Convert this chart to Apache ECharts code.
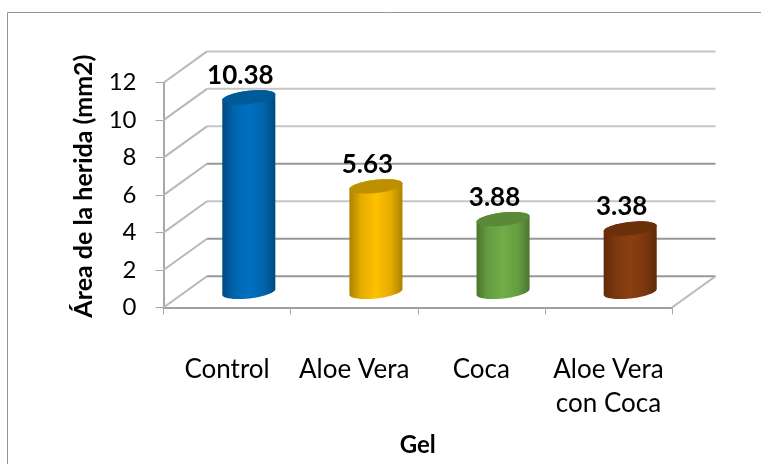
<!DOCTYPE html>
<html>
<head>
<meta charset="utf-8">
<style>html,body{margin:0;padding:0;background:#fff}#chart{width:761px;height:464px}</style>
<script src="https://cdn.jsdelivr.net/npm/echarts@6/dist/echarts.min.js"></script>
</head>
<body>
<div id="chart"></div>
<script>
const categories = ['Control', 'Aloe Vera', 'Coca', 'Aloe Vera\ncon Coca'];
const values = [10.38, 5.63, 3.88, 3.38];
const yTicks = [0, 2, 4, 6, 8, 10, 12];
const xTitle = 'Gel';
const yTitle = 'Área de la herida (mm2)';

// edge, shoulder, centre and cap tones of each cylinder
const palette = [
  ['#004a80', '#0064ac', '#0070c0', '#005a98'],
  ['#ab8200', '#e6ad00', '#ffc000', '#bd9000'],
  ['#4c7531', '#659d40', '#70ad47', '#5a8a38'],
  ['#5f2a08', '#7c370d', '#8b3f10', '#6b3009']
];

const DEPTH = [43.5, -31.3];      // oblique offset from front to back wall
const RX = 26.7, RY = 6.6, TILT = -6.5 * Math.PI / 180;

function ellipsePoint(cx, cy, t) {
  const x = RX * Math.cos(t), y = RY * Math.sin(t);
  return [cx + x * Math.cos(TILT) - y * Math.sin(TILT),
          cy + x * Math.sin(TILT) + y * Math.cos(TILT)];
}

function ellipsePolygon(cx, cy) {
  const pts = [];
  for (let i = 0; i < 48; i++) pts.push(ellipsePoint(cx, cy, i / 48 * 2 * Math.PI));
  return pts;
}

function cylinderBody(cx, topY, baseY) {
  const pts = [];
  for (let i = 0; i <= 24; i++) pts.push(ellipsePoint(cx, baseY, i / 24 * Math.PI));
  for (let i = 0; i <= 24; i++) pts.push(ellipsePoint(cx, topY, Math.PI + i / 24 * Math.PI));
  return pts;
}

function wallItem(params, api) {
  const children = [];
  yTicks.forEach(function (t) {
    const a = api.coord([0, t]);
    const left = params.coordSys.x;
    const right = left + params.coordSys.width;
    const back = [left + DEPTH[0], a[1] + DEPTH[1]];
    children.push({ type: 'line', shape: { x1: left, y1: a[1], x2: back[0], y2: back[1] },
      style: { stroke: '#b8b8b8', lineWidth: 2 } });
    children.push({ type: 'line', shape: { x1: back[0], y1: back[1], x2: right + DEPTH[0], y2: back[1] },
      style: { stroke: t <= 2 || t === 6 ? '#989898' : '#c6c6c6', lineWidth: 2 } });
    if (t === 0) {
      children.push({ type: 'line', shape: { x1: right, y1: a[1], x2: right + DEPTH[0], y2: back[1] },
        style: { stroke: '#b8b8b8', lineWidth: 2 } });
    }
  });
  return { type: 'group', children: children };
}

function cylinderItem(params, api) {
  const i = api.value(0), v = api.value(1);
  const top = api.coord([i, v]);
  const base = api.coord([i, 0]);
  const cx = top[0] + DEPTH[0] / 2;
  const topY = top[1] + DEPTH[1] / 2;
  const baseY = base[1] + DEPTH[1] / 2;
  const c = palette[i];
  return {
    type: 'group',
    children: [
      {
        type: 'polygon',
        shape: { points: cylinderBody(cx, topY, baseY) },
        style: {
          fill: new echarts.graphic.LinearGradient(0, 0, 1, 0, [
            { offset: 0, color: c[0] },
            { offset: 0.22, color: c[1] },
            { offset: 0.5, color: c[2] },
            { offset: 0.78, color: c[1] },
            { offset: 1, color: c[0] }
          ])
        }
      },
      { type: 'polygon', shape: { points: ellipsePolygon(cx, topY) }, style: { fill: c[3] } },
      {
        type: 'text',
        x: cx - 8.5,
        y: topY - 22,
        style: {
          text: v.toFixed(2),
          fill: '#000',
          font: 'bold 26px Lato, sans-serif',
          align: 'center',
          verticalAlign: 'middle'
        }
      }
    ]
  };
}

const chart = echarts.init(document.getElementById('chart'), null, { renderer: 'canvas' });
chart.setOption({
  animation: false,
  backgroundColor: '#fff',
  graphic: [{
    type: 'rect',
    silent: true,
    shape: { x: 7.5, y: 12.5, width: 800, height: 500 },
    style: { fill: 'none', stroke: '#969696', lineWidth: 1 }
  }],
  grid: { left: 163.5, right: 89, top: 82.7, bottom: 156.5 },
  xAxis: {
    type: 'category',
    data: categories,
    name: xTitle,
    nameLocation: 'middle',
    nameGap: 126,
    nameMoveOverlap: false,
    nameTextStyle: { color: '#000', fontFamily: 'Lato', fontSize: 24, fontWeight: 'bold' },
    axisLine: { lineStyle: { color: '#a0a0a0', width: 2 } },
    axisTick: { show: true, length: 7, alignWithLabel: false, lineStyle: { color: '#a8a8a8', width: 1 } },
    axisLabel: { color: '#000', fontFamily: 'Lato', fontSize: 26, lineHeight: 34, margin: 45, interval: 0, hideOverlap: false },
    splitLine: { show: false }
  },
  yAxis: {
    type: 'value',
    min: 0,
    max: 12,
    interval: 2,
    name: yTitle,
    nameLocation: 'middle',
    nameGap: 67,
    nameMoveOverlap: false,
    nameTextStyle: { color: '#000', fontFamily: 'Lato', fontSize: 25, fontWeight: 'bold', padding: [0, 0, 0, 18] },
    axisLine: { show: true, lineStyle: { color: '#a8a8a8', width: 2 } },
    axisTick: { show: true, length: 8, lineStyle: { color: '#a8a8a8', width: 1 } },
    axisLabel: { color: '#000', fontFamily: 'Lato', fontSize: 24, margin: 27 },
    splitLine: { show: false }
  },
  series: [
    { type: 'custom', renderItem: wallItem, data: [[0, 0]], silent: true, z: 1, clip: false },
    {
      type: 'custom',
      renderItem: cylinderItem,
      data: values.map(function (v, i) { return [i, v]; }),
      encode: { x: 0, y: 1 },
      z: 2,
      clip: false
    }
  ]
});
</script>
</body>
</html>
